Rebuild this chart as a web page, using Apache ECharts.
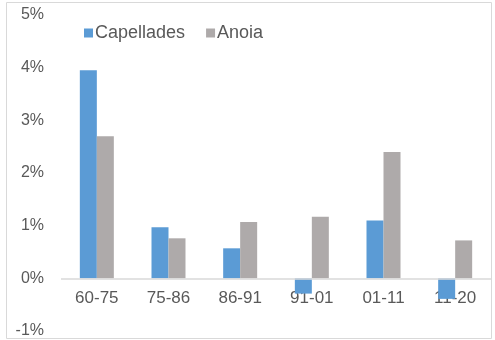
<!DOCTYPE html>
<html><head><meta charset="utf-8">
<script src="https://cdn.jsdelivr.net/npm/echarts@6/dist/echarts.min.js"></script>
<style>html,body{margin:0;padding:0;background:#fff}#c{width:495px;height:340px}</style>
</head><body><div id="c"></div>
<script>
const categories = ['60-75','75-86','86-91','91-01','01-11','11-20'];
const capellades = [3.95, 0.97, 0.57, -0.29, 1.10, -0.39];
const anoia = [2.70, 0.76, 1.07, 1.17, 2.40, 0.72];
const seriesNames = ['Capellades','Anoia'];

const chart = echarts.init(document.getElementById('c'), null, {renderer:'canvas'});
chart.setOption({
  animation: false,
  textStyle: {fontFamily: 'Liberation Sans, Arial, sans-serif'},
  graphic: [{type:'rect', shape:{x:6.5,y:2.5,width:485,height:336}, style:{fill:'none', stroke:'#D9D9D9', lineWidth:1}, silent:true}],
  legend: {
    left: 84, top: 24, padding: 0, itemWidth: 9, itemHeight: 9, itemGap: 21,
    icon: 'rect',
    textStyle: {fontSize: 18, color: '#595959', padding:[0,0,0,-3]},
    data: seriesNames
  },
  grid: {left: 61, right: 4, top: 15, bottom: 9, containLabel: false, outerBoundsMode: 'none'},
  xAxis: {
    type: 'category', data: categories, position: 'bottom',
    axisLine: {show: false, onZero: false},
    axisTick: {show: false},
    axisLabel: {fontSize: 17, color: '#595959', margin: -41}
  },
  yAxis: {
    type: 'value', min: -1, max: 5, interval: 1,
    splitLine: {show: false},
    axisLine: {show: false}, axisTick: {show: false},
    axisLabel: {fontSize: 16, color: '#595959', margin: 17, formatter: v => v + '%'}
  },
  series: [
    {name: seriesNames[0], type: 'bar', data: capellades, barWidth: 17, barGap: '0%', itemStyle: {color: '#5B9BD5'},
     markLine: {silent: true, symbol: 'none', label: {show: false}, lineStyle: {color: '#D9D9D9', width: 1.5, type: 'solid'}, data: [{yAxis: 0}]}},
    {name: seriesNames[1], type: 'bar', data: anoia, barWidth: 17, barGap: '0%', itemStyle: {color: '#AEAAAA'}}
  ]
});
</script></body></html>
